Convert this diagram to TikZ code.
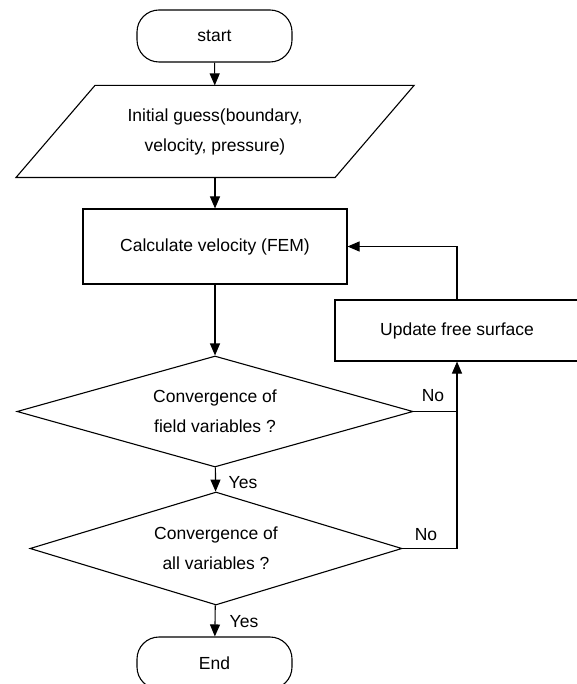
\documentclass[tikz,border=0pt]{standalone}
\usepackage{fontspec}
\setmainfont{Liberation Sans}
\usetikzlibrary{arrows.meta,shapes.geometric}

\begin{document}
\begin{tikzpicture}[x=1pt, y=-1pt, line width=1.1pt,
    every node/.style={font=\fontsize{17.5}{30}\selectfont, align=center},
    terminal/.style={draw, rectangle, rounded corners=22pt, minimum width=155pt, minimum height=52pt},
    process/.style={draw, rectangle, inner sep=0pt},
    decision/.style={draw, diamond, aspect=3.5, inner sep=0pt},
    flow/.style={-{Triangle[length=12pt, width=10pt]}}]
    \useasboundingbox (0,0) rectangle (576,684);

    \node[terminal] (start) at (214.5,36) {start};
    \node[minimum width=318pt, minimum height=91pt, inner sep=0pt] (guess) at (215,131.5)
          {Initial guess(boundary,\\velocity, pressure)};
    \draw ([xshift=-39.5pt]guess.south west) -- ([xshift=-39.5pt]guess.south east)
          -- ([xshift=39.5pt]guess.north east) -- ([xshift=39.5pt]guess.north west) -- cycle;
    \node[process, minimum width=264pt, minimum height=75pt] (calc) at (215,246.5) {Calculate velocity (FEM)};
    \node[process, minimum width=244pt, minimum height=61pt] (update) at (457,330.5) {Update free surface};
    \node[decision, minimum width=396pt, minimum height=111pt] (field) at (215,411.5)
          {Convergence of\\field variables ?};
    \node[decision, minimum width=372pt, minimum height=113pt] (all) at (216,548.5)
          {Convergence of\\all variables ?};
    \node[terminal] (end) at (214.5,663) {End};

    \node (no1) at (433,396) {No};
    \node (no2) at (426,535) {No};
    \node (yes1) at (243,483) {Yes};
    \node (yes2) at (244,622) {Yes};

    \coordinate (join) at (update.south |- field.east);

    \draw[flow] (start) -- (guess);
    \draw[flow] (guess) -- (calc);
    \draw[flow] (calc) -- (field);
    \draw[flow] (field) -- (all);
    \draw[flow] (all) -- (end);
    \draw[flow] (field.east) -- (join) -- (update.south);
    \draw (all.east) -| (join);
    \draw[flow] (update.north) |- (calc.east);

\end{tikzpicture}
\end{document}
